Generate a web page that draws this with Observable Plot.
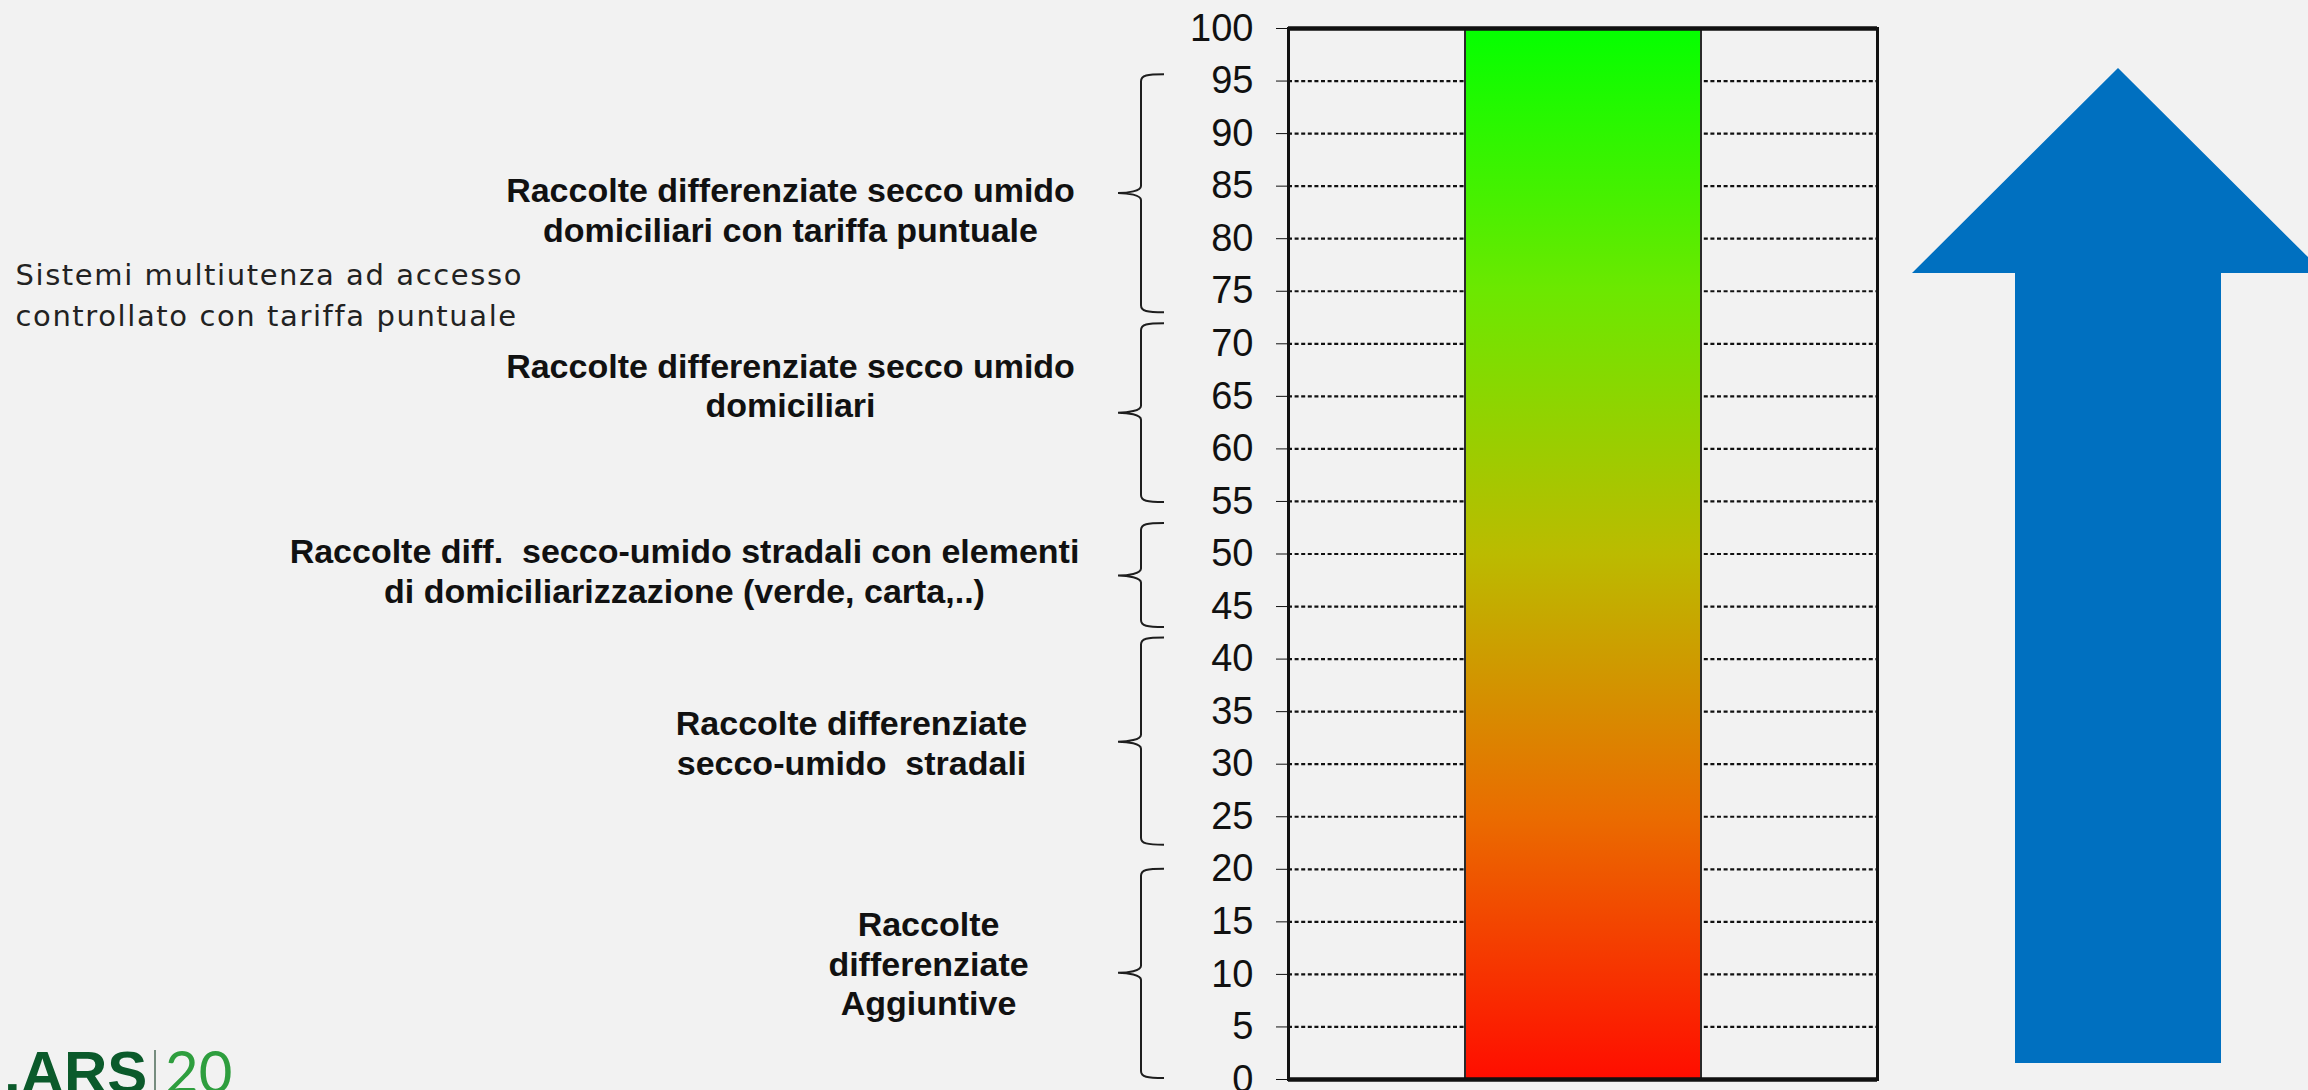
<!DOCTYPE html>
<html>
<head>
<meta charset="utf-8">
<script src="https://cdn.jsdelivr.net/npm/d3@7"></script>
<script src="https://cdn.jsdelivr.net/npm/@observablehq/plot@0.6"></script>
<style>
  html, body { margin: 0; padding: 0; background: #f2f2f2; overflow: hidden; width: 2308px; height: 1090px; }
  #wrap { position: relative; width: 2308px; height: 1090px; }
  #wrap svg text { white-space: pre; }
  #overlay { position: absolute; left: 0; top: 0; pointer-events: none; }
</style>
</head>
<body>
<div id="wrap"></div>
<script>
// ---------------- data ----------------
const category = ["Livello"];
const barValue = [100];
const yTicks = [0, 5, 10, 15, 20, 25, 30, 35, 40, 45, 50, 55, 60, 65, 70, 75, 80, 85, 90, 95, 100];
const gridValues = [5, 10, 15, 20, 25, 30, 35, 40, 45, 50, 55, 60, 65, 70, 75, 80, 85, 90, 95];
const groupLabels = [
  "Raccolte differenziate secco umido\ndomiciliari con tariffa puntuale",
  "Raccolte differenziate secco umido\ndomiciliari",
  "Raccolte diff.  secco-umido stradali con elementi\ndi domiciliarizzazione (verde, carta,..)",
  "Raccolte differenziate\nsecco-umido  stradali",
  "Raccolte\ndifferenziate\nAggiuntive"
];
const groupFrom = [72.95, 54.9, 43.0, 22.3, 0.1];
const groupTo   = [95.6, 71.9, 52.9, 42.0, 20.0];
const groupTip  = [84.3, 63.4, 47.9, 32.1, 10.1];
const labelY    = [82.8, 66.1, 48.45, 32.1, 11.1];
const sideNote = "Sistemi multiutenza ad accesso\ncontrollato con tariffa puntuale";
const sideNoteY = 74.9;
const gradientStops = [0, 0.25, 0.5, 0.75, 1];
const gradientColors = ["#ff0d00", "#ea6c00", "#bbbb00", "#6ce800", "#04ff00"];

// ---------------- layout constants ----------------
const W = 2308, H = 1090;
const labelDx = [-498, -498, -604, -437, -360];

const barData = category.map((c, i) => ({category: c, value: barValue[i]}));

const plot = Plot.plot({
  width: W, height: H,
  marginLeft: 1288, marginRight: 431, marginTop: 28, marginBottom: 11,
  style: {background: "transparent", fontFamily: "'Liberation Sans', Arial, sans-serif", fontSize: "38px", color: "#111"},
  x: {type: "band", domain: category, padding: 0.428, axis: null},
  y: {domain: [0, 100], axis: null},
  marks: [
    Plot.ruleY(gridValues, {stroke: "#111", strokeWidth: 2.2, strokeDasharray: "4,2.6"}),
    Plot.barY(barData, {x: "category", y: "value", fill: "url(#barGrad)", stroke: "#2a2a2a", strokeWidth: 2}),
    Plot.frame({stroke: "#111", strokeWidth: 3}),
    Plot.ruleY([0, 100], {stroke: "#111", strokeWidth: 4.5}),
    Plot.axisY({ticks: yTicks, tickSize: 12, tickPadding: 23, fontSize: 38, label: null, stroke: "#111", fill: "#111"}),
    ...groupLabels.map((t, i) => Plot.text([i], {
      text: d => groupLabels[d], y: d => labelY[d],
      frameAnchor: "left", dx: labelDx[i], textAnchor: "middle", lineAnchor: "middle",
      lineHeight: 1.17, fontSize: 34, fontWeight: "bold", fill: "#111"
    })),
    Plot.text([0], {
      text: () => sideNote, y: () => sideNoteY,
      frameAnchor: "left", dx: -1273, textAnchor: "start", lineAnchor: "middle",
      lineHeight: 1.41, fontSize: 29, fontFamily: "'DejaVu Sans', sans-serif", fill: "#222"
    })
  ]
});

document.getElementById("wrap").appendChild(plot);

const svg = d3.select(plot.tagName.toLowerCase() === "svg" ? plot : plot.querySelector("svg"));
svg.selectAll("text").filter(function() { return this.textContent.startsWith("Sistemi"); })
  .style("letter-spacing", "1.6px");

// gradient for the bar
const defs = svg.insert("defs", ":first-child");
const grad = defs.append("linearGradient").attr("id", "barGrad")
  .attr("x1", 0).attr("y1", 1).attr("x2", 0).attr("y2", 0);
gradientStops.forEach((t, k) => {
  grad.append("stop").attr("offset", t).attr("stop-color", gradientColors[k]);
});

// curly braces using the plot's y scale
const ys = plot.scale("y");
const xs = plot.scale("x");
const left = (xs && xs.range) ? Math.min(...xs.range) : 1288;
const xv = left - 147, xt = left - 170, xe = left - 124;
const braceG = svg.append("g").attr("fill", "none").attr("stroke", "#1e1e1e").attr("stroke-width", 2);
groupFrom.forEach((lo, i) => {
  const yTop = ys.apply(groupTo[i]);
  const yBot = ys.apply(lo);
  const yTip = ys.apply(groupTip[i]);
  const r = 7;
  const d = `M${xe},${yTop} C${xv + 6},${yTop} ${xv},${yTop + 1} ${xv},${yTop + r}`
    + ` L${xv},${yTip - r} C${xv},${yTip - 2} ${xt + 10},${yTip} ${xt},${yTip}`
    + ` C${xt + 10},${yTip} ${xv},${yTip + 2} ${xv},${yTip + r}`
    + ` L${xv},${yBot - r} C${xv},${yBot - 1} ${xv + 6},${yBot} ${xe},${yBot}`;
  braceG.append("path").attr("d", d);
});

// decorative overlay: blue arrow and logo
const ov = d3.select("#wrap").append("svg").attr("id", "overlay").attr("width", W).attr("height", H);
ov.append("polygon")
  .attr("points", "2118,68 2324,273 2221,273 2221,1063 2015,1063 2015,273 1912,273")
  .attr("fill", "#0070c0");
ov.append("text").attr("x", 4).attr("y", 1093)
  .attr("font-family", "'Liberation Sans', Arial, sans-serif").attr("font-weight", "bold")
  .attr("font-size", 60).attr("fill", "#0b5a2b").text(".ARS");
ov.append("line").attr("x1", 155).attr("x2", 155).attr("y1", 1050).attr("y2", 1090)
  .attr("stroke", "#4d6b58").attr("stroke-width", 1.5);
ov.append("text").attr("x", 165).attr("y", 1093)
  .attr("font-family", "Lato, 'Liberation Sans', sans-serif").attr("font-weight", 400)
  .attr("font-size", 58).attr("fill", "#2e9e3e").text("20");
</script>
</body>
</html>
